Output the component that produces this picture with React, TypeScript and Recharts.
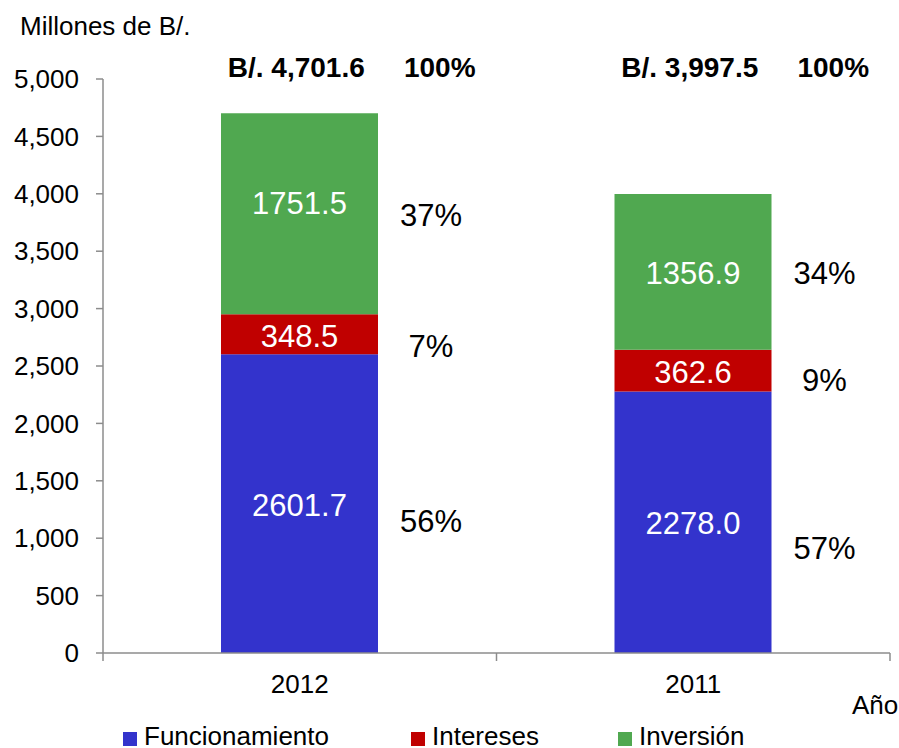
import { BarChart, Bar, XAxis, YAxis, LabelList } from "recharts";

const years = ["2012", "2011"];
const funcionamiento = [2601.7, 2278.0];
const intereses = [348.5, 362.6];
const inversion = [1751.5, 1356.9];
const totals = [4701.6, 3997.5];
const pctFuncionamiento = [56, 57];
const pctIntereses = [7, 9];
const pctInversion = [37, 34];
const yTicks = [0, 500, 1000, 1500, 2000, 2500, 3000, 3500, 4000, 4500, 5000];

const FONT = "'Liberation Sans', Arial, Helvetica, sans-serif";
const BLUE = "#3333CC";
const RED = "#C00000";
const GREEN = "#50A850";
const AXIS = "#8c8c8c";
const PLOT_WIDTH = 787;

// small vertical nudges for the percent / value labels, as placed in the original
const pctNudge = { funcionamiento: [17, 26], intereses: [12, 9], inversion: [1, 1] };
const valueNudge = { funcionamiento: [1, 1], intereses: [2, 1], inversion: [-11, 1] };

const data = years.map((year, i) => ({
  year,
  funcionamiento: funcionamiento[i],
  intereses: intereses[i],
  inversion: inversion[i],
}));

const pctBySeries: Record<string, number[]> = {
  funcionamiento: pctFuncionamiento,
  intereses: pctIntereses,
  inversion: pctInversion,
};

const fmtThousands = (v: number) => v.toLocaleString("en-US");

const makeValueLabel = (key: string) => (props: any) => {
  const { x, y, width, height, value, index } = props;
  return (
    <text
      x={x + width / 2}
      y={y + height / 2 + valueNudge[key][index]}
      dy="0.35em"
      textAnchor="middle"
      fill="#fff"
      fontSize={31}
      fontFamily={FONT}
    >
      {Number(value).toFixed(1)}
    </text>
  );
};

const makePctLabel = (key: string) => (props: any) => {
  const { x, y, width, height, index } = props;
  return (
    <text
      x={x + width + 53}
      y={y + height / 2 + pctNudge[key][index]}
      dy="0.35em"
      textAnchor="middle"
      fill="#000"
      fontSize={31}
      fontFamily={FONT}
    >
      {pctBySeries[key][index]}%
    </text>
  );
};

const TotalTick = (props: any) => {
  const { x, y, index } = props;
  const total = totals[index].toLocaleString("en-US", { minimumFractionDigits: 1, maximumFractionDigits: 1 });
  return (
    <g>
      <text x={x - 72} y={y} textAnchor="start" fontWeight="bold" fontSize={28} fontFamily={FONT} fill="#000">
        B/. {total}
      </text>
      <text x={x + 140} y={y} textAnchor="middle" fontWeight="bold" fontSize={28} fontFamily={FONT} fill="#000">
        100%
      </text>
    </g>
  );
};

// category tick: label in the middle, tick marks on the category boundaries
const YearTick = (props: any) => {
  const { x, y, payload, index, visibleTicksCount } = props;
  const half = payload && payload.offset ? payload.offset : PLOT_WIDTH / (visibleTicksCount || years.length) / 2;
  const axisY = y - 22;
  return (
    <g>
      <line x1={x - half} x2={x - half} y1={axisY} y2={axisY + 8} stroke={AXIS} strokeWidth={1.5} />
      {index === (visibleTicksCount || years.length) - 1 && (
        <line x1={x + half} x2={x + half} y1={axisY} y2={axisY + 8} stroke={AXIS} strokeWidth={1.5} />
      )}
      <text x={x} y={y} dy="0.71em" textAnchor="middle" fontSize={26} fontFamily={FONT} fill="#000">
        {payload.value}
      </text>
    </g>
  );
};

const legendItems = [
  { name: "Funcionamiento", color: BLUE, left: 123 },
  { name: "Intereses", color: RED, left: 411 },
  { name: "Inversión", color: GREEN, left: 618 },
];

const textStyle = {
  position: "absolute" as const,
  fontFamily: FONT,
  fontSize: 26,
  lineHeight: "26px",
  color: "#000",
  whiteSpace: "nowrap" as const,
};

export default function App() {
  return (
    <div style={{ position: "absolute", left: 0, top: 0, width: 899, height: 748, background: "#fff", overflow: "hidden" }}>
      <BarChart width={899} height={748} data={data} margin={{ top: 0, right: 9, left: 0, bottom: 0 }}>
        <XAxis
          xAxisId="cat"
          dataKey="year"
          height={95}
          axisLine={{ stroke: AXIS, strokeWidth: 1.5 }}
          tickLine={false}
          tickSize={6}
          tickMargin={16}
          tick={<YearTick />}
        />
        <XAxis
          xAxisId="top"
          orientation="top"
          dataKey="year"
          height={79}
          axisLine={false}
          tickLine={false}
          tickSize={0}
          tickMargin={2}
          tick={<TotalTick />}
        />
        <YAxis
          domain={[0, 5000]}
          ticks={yTicks}
          interval={0}
          width={103}
          tickSize={7}
          tickMargin={17}
          stroke={AXIS}
          strokeWidth={1.5}
          tickFormatter={fmtThousands}
          tick={{ fontSize: 26, fill: "#000", fontFamily: FONT }}
        />
        <Bar dataKey="funcionamiento" name="Funcionamiento" stackId="a" xAxisId="cat" fill={BLUE} barSize={157} isAnimationActive={false}>
          <LabelList dataKey="funcionamiento" content={makeValueLabel("funcionamiento")} />
          <LabelList dataKey="funcionamiento" content={makePctLabel("funcionamiento")} />
        </Bar>
        <Bar dataKey="intereses" name="Intereses" stackId="a" xAxisId="cat" fill={RED} barSize={157} isAnimationActive={false}>
          <LabelList dataKey="intereses" content={makeValueLabel("intereses")} />
          <LabelList dataKey="intereses" content={makePctLabel("intereses")} />
        </Bar>
        <Bar dataKey="inversion" name="Inversión" stackId="a" xAxisId="cat" fill={GREEN} barSize={157} isAnimationActive={false}>
          <LabelList dataKey="inversion" content={makeValueLabel("inversion")} />
          <LabelList dataKey="inversion" content={makePctLabel("inversion")} />
        </Bar>
      </BarChart>

      <div style={{ ...textStyle, left: 20, top: 13 }}>Millones de B/.</div>
      <div style={{ ...textStyle, left: 852, top: 692 }}>Año</div>
      {legendItems.map((item) => (
        <div key={item.name}>
          <div style={{ position: "absolute", left: item.left, top: 732, width: 14, height: 14, background: item.color }} />
          <div style={{ ...textStyle, left: item.left + 21, top: 723 }}>{item.name}</div>
        </div>
      ))}
    </div>
  );
}
